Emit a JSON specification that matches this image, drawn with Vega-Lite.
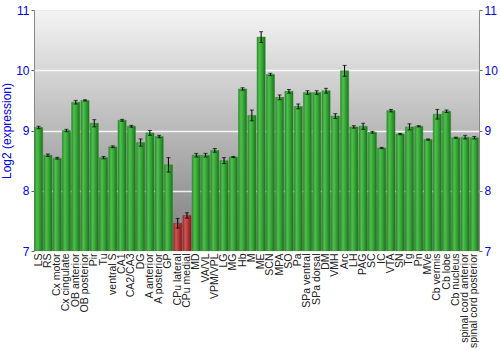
{
  "$schema": "https://vega.github.io/schema/vega-lite/v6.json",
  "autosize": {"type": "none"},
  "width": 445,
  "height": 241,
  "padding": {"left": 34, "top": 10, "right": 21, "bottom": 99},
  "config": {
    "view": {
      "stroke": "#888888",
      "strokeWidth": 1,
      "fill": {"gradient": "linear", "x1": 0, "y1": 0, "x2": 0, "y2": 1, "stops": [{"offset": 0, "color": "#f4f4f4"}, {"offset": 1, "color": "#7c7c7c"}]}
    },
    "font": "Liberation Sans"
  },
  "data": {
    "values": [
      {"region": "LS", "value": 9.05, "err": 0.02, "group": "g"},
      {"region": "RS", "value": 8.59, "err": 0.02, "group": "g"},
      {"region": "Cx motor", "value": 8.54, "err": 0.015, "group": "g"},
      {"region": "Cx cingulate", "value": 9.0, "err": 0.02, "group": "g"},
      {"region": "OB anterior", "value": 9.47, "err": 0.03, "group": "g"},
      {"region": "OB posterior", "value": 9.5, "err": 0.01, "group": "g"},
      {"region": "Pir", "value": 9.12, "err": 0.06, "group": "g"},
      {"region": "Tu", "value": 8.55, "err": 0.02, "group": "g"},
      {"region": "ventral S", "value": 8.73, "err": 0.015, "group": "g"},
      {"region": "CA1", "value": 9.17, "err": 0.015, "group": "g"},
      {"region": "CA2/CA3", "value": 9.07, "err": 0.015, "group": "g"},
      {"region": "DG", "value": 8.8, "err": 0.06, "group": "g"},
      {"region": "A anterior", "value": 8.96, "err": 0.04, "group": "g"},
      {"region": "A posterior", "value": 8.9, "err": 0.02, "group": "g"},
      {"region": "GP", "value": 8.43, "err": 0.12, "group": "g"},
      {"region": "CPu lateral", "value": 7.46, "err": 0.08, "group": "r"},
      {"region": "CPu medial", "value": 7.59, "err": 0.045, "group": "r"},
      {"region": "MD", "value": 8.59, "err": 0.03, "group": "g"},
      {"region": "VA/VL", "value": 8.59, "err": 0.03, "group": "g"},
      {"region": "VPM/VPL", "value": 8.67, "err": 0.03, "group": "g"},
      {"region": "LG", "value": 8.5, "err": 0.05, "group": "g"},
      {"region": "MG", "value": 8.56, "err": 0.01, "group": "g"},
      {"region": "Hb", "value": 9.69, "err": 0.02, "group": "g"},
      {"region": "M", "value": 9.25, "err": 0.09, "group": "g"},
      {"region": "ME", "value": 10.55, "err": 0.09, "group": "g"},
      {"region": "SCN", "value": 9.93, "err": 0.02, "group": "g"},
      {"region": "MPA", "value": 9.55, "err": 0.04, "group": "g"},
      {"region": "SO", "value": 9.65, "err": 0.03, "group": "g"},
      {"region": "Pa", "value": 9.4, "err": 0.04, "group": "g"},
      {"region": "SPa ventral", "value": 9.63, "err": 0.03, "group": "g"},
      {"region": "SPa dorsal", "value": 9.63, "err": 0.03, "group": "g"},
      {"region": "DM", "value": 9.66, "err": 0.04, "group": "g"},
      {"region": "VMH", "value": 9.24, "err": 0.04, "group": "g"},
      {"region": "Arc", "value": 9.99, "err": 0.09, "group": "g"},
      {"region": "LH", "value": 9.06, "err": 0.02, "group": "g"},
      {"region": "PAG", "value": 9.07, "err": 0.05, "group": "g"},
      {"region": "SC", "value": 8.97, "err": 0.015, "group": "g"},
      {"region": "IC", "value": 8.71, "err": 0.01, "group": "g"},
      {"region": "VTA", "value": 9.33, "err": 0.02, "group": "g"},
      {"region": "SN", "value": 8.94, "err": 0.01, "group": "g"},
      {"region": "Tg", "value": 9.06, "err": 0.05, "group": "g"},
      {"region": "Pn", "value": 9.07, "err": 0.01, "group": "g"},
      {"region": "MVe", "value": 8.85, "err": 0.01, "group": "g"},
      {"region": "Cb vermis", "value": 9.27, "err": 0.08, "group": "g"},
      {"region": "Cb lobe", "value": 9.32, "err": 0.02, "group": "g"},
      {"region": "Cb nucleus", "value": 8.88, "err": 0.01, "group": "g"},
      {"region": "spinal cord anterior", "value": 8.89, "err": 0.03, "group": "g"},
      {"region": "spinal cord posterior", "value": 8.88, "err": 0.02, "group": "g"}
    ]
  },
  "encoding": {
    "x": {
      "field": "region", "type": "nominal", "sort": null,
      "scale": {"paddingInner": 0.12, "paddingOuter": 0.06},
      "axis": {"title": null, "labelAngle": -90, "labelFontSize": 10.5, "labelColor": "#222222", "labelPadding": 2, "ticks": false, "domain": false, "labelFont": "Liberation Sans"}
    }
  },
  "layer": [
    {
      "mark": {"type": "bar", "clip": true, "strokeWidth": 0.5},
      "encoding": {
        "y": {"field": "value", "type": "quantitative", "scale": {"domain": [7, 11], "nice": false, "zero": false},
          "axis": {"title": "Log2 (expression)", "titleColor": "#0000ee", "titleFontWeight": "normal", "titleFontSize": 12, "titleFont": "Liberation Sans", "titlePadding": 2, "labelColor": "#0000ee", "labelFontSize": 12, "values": [7, 8, 9, 10, 11], "gridColor": "#ffffff", "gridOpacity": 0.85, "gridWidth": 1.5, "tickColor": "#666666", "tickSize": 3, "domain": false, "labelPadding": 2, "orient": "left"}},
        "y2": {"datum": 7},
        "fill": {
          "condition": {"test": "datum.group == 'r'", "value": {"gradient": "linear", "x1": 0, "y1": 0, "x2": 1, "y2": 0, "stops": [{"offset": 0, "color": "#a02a2a"}, {"offset": 0.3, "color": "#cc5555"}, {"offset": 0.7, "color": "#aa3030"}, {"offset": 1, "color": "#7a1a1a"}]}},
          "value": {"gradient": "linear", "x1": 0, "y1": 0, "x2": 1, "y2": 0, "stops": [{"offset": 0, "color": "#2a8f2a"}, {"offset": 0.3, "color": "#4fbf4f"}, {"offset": 0.7, "color": "#2e9a2e"}, {"offset": 1, "color": "#1c6e1c"}]}
        },
        "stroke": {"condition": {"test": "datum.group == 'r'", "value": "#9a2a2a"}, "value": "#2a8a2a"}
      }
    },
    {
      "mark": {"type": "errorbar", "ticks": {"size": 4, "color": "#000000"}, "rule": {"color": "#000000"}, "thickness": 1},
      "encoding": {
        "y": {"field": "value", "type": "quantitative", "scale": {"domain": [7, 11], "nice": false, "zero": false},
          "axis": {"title": null, "orient": "right", "labelColor": "#0000ee", "labelFontSize": 12, "values": [7, 8, 9, 10, 11], "grid": false, "tickColor": "#666666", "tickSize": 3, "domain": false, "labelPadding": 2}},
        "yError": {"field": "err"}
      }
    }
  ],
  "resolve": {"axis": {"y": "independent"}}
}
